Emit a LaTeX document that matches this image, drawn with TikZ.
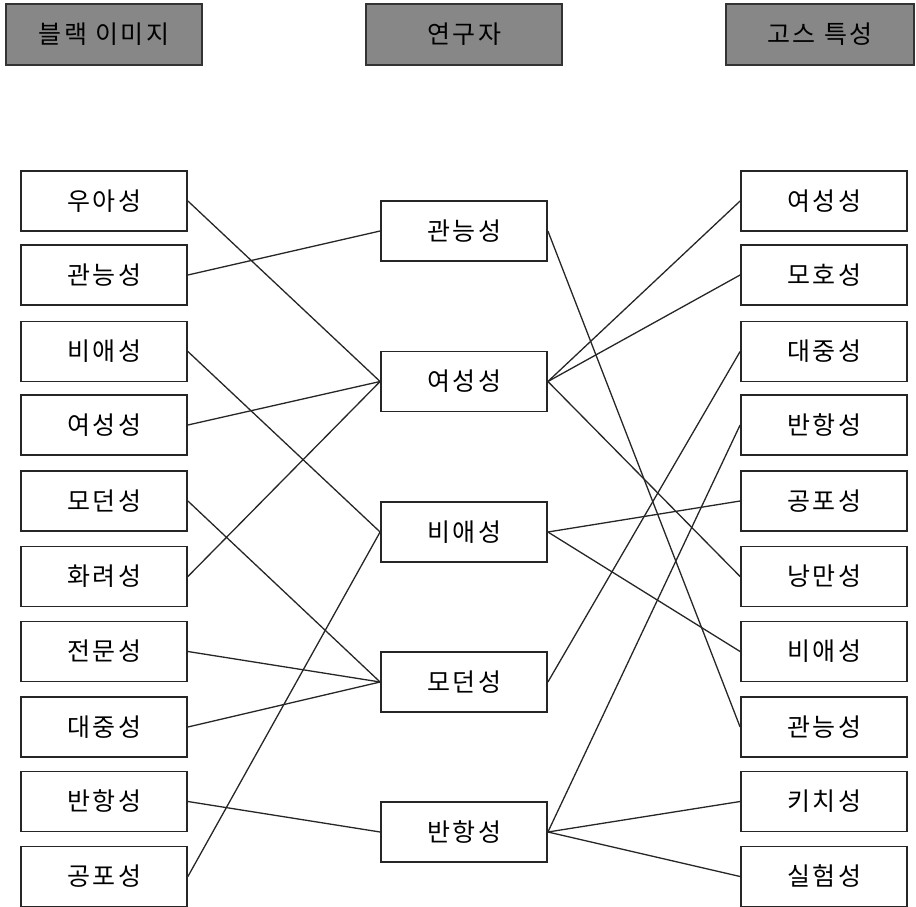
\documentclass[tikz,border=0pt]{standalone}
\usepackage{fontspec}
\newfontfamily\kr[LetterSpace=10]{Noto Sans CJK KR}
\begin{document}
\begin{tikzpicture}[x=1pt,y=-1pt,
  item/.style={draw=black!85,line width=1.8pt,fill=white,minimum width=166pt,minimum height=60pt,inner sep=0pt,font=\kr\fontsize{25}{28}\selectfont},
  head/.style={draw=black!80,line width=1.8pt,fill=black!47,minimum width=196pt,minimum height=61pt,inner sep=0pt,font=\kr\fontsize{25}{28}\selectfont},
  link/.style={draw=black!85,line width=1.3pt}]
\useasboundingbox (0,0) rectangle (916,907);
% headers
\node[head] (h1) at (104,34.5) {블랙 이미지};
\node[head] (h2) at (464,34.5) {연구자};
\node[head,minimum width=188pt] (h3) at (820,34.5) {고스 특성};
% left column
\node[item] (l1) at (104,201) {우아성};
\node[item] (l2) at (104,275) {관능성};
\node[item] (l3) at (104,351.5) {비애성};
\node[item] (l4) at (104,425) {여성성};
\node[item] (l5) at (104,501) {모던성};
\node[item] (l6) at (104,576.5) {화려성};
\node[item] (l7) at (104,651.5) {전문성};
\node[item] (l8) at (104,727) {대중성};
\node[item] (l9) at (104,801.5) {반항성};
\node[item] (l10) at (104,876.5) {공포성};
% middle column
\node[item] (m1) at (464,231) {관능성};
\node[item] (m2) at (464,381.5) {여성성};
\node[item] (m3) at (464,532) {비애성};
\node[item] (m4) at (464,682) {모던성};
\node[item] (m5) at (464,832) {반항성};
% right column
\node[item] (r1) at (824,201) {여성성};
\node[item] (r2) at (824,275) {모호성};
\node[item] (r3) at (824,351.5) {대중성};
\node[item] (r4) at (824,425) {반항성};
\node[item] (r5) at (824,501) {공포성};
\node[item] (r6) at (824,576.5) {낭만성};
\node[item] (r7) at (824,651.5) {비애성};
\node[item] (r8) at (824,727) {관능성};
\node[item] (r9) at (824,801.5) {키치성};
\node[item] (r10) at (824,876.5) {실험성};
% left -> middle
\draw[link] (l1.east) -- (m2.west);
\draw[link] (l2.east) -- (m1.west);
\draw[link] (l3.east) -- (m3.west);
\draw[link] (l4.east) -- (m2.west);
\draw[link] (l5.east) -- (m4.west);
\draw[link] (l6.east) -- (m2.west);
\draw[link] (l7.east) -- (m4.west);
\draw[link] (l8.east) -- (m4.west);
\draw[link] (l9.east) -- (m5.west);
\draw[link] (l10.east) -- (m3.west);
% middle -> right
\draw[link] (m1.east) -- (r8.west);
\draw[link] (m2.east) -- (r1.west);
\draw[link] (m2.east) -- (r2.west);
\draw[link] (m2.east) -- (r6.west);
\draw[link] (m3.east) -- (r5.west);
\draw[link] (m3.east) -- (r7.west);
\draw[link] (m4.east) -- (r3.west);
\draw[link] (m5.east) -- (r4.west);
\draw[link] (m5.east) -- (r9.west);
\draw[link] (m5.east) -- (r10.west);
\end{tikzpicture}
\end{document}
